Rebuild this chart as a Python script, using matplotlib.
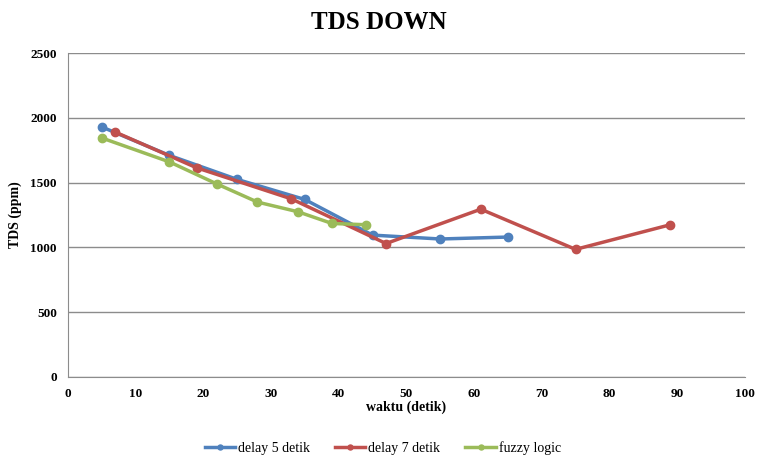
import matplotlib.pyplot as plt

# data
x_delay5 = [5, 15, 25, 35, 45, 55, 65]
y_delay5 = [1930, 1710, 1525, 1370, 1095, 1065, 1080]

x_delay7 = [7, 19, 33, 47, 61, 75, 89]
y_delay7 = [1890, 1615, 1375, 1030, 1295, 985, 1175]

x_fuzzy = [5, 15, 22, 28, 34, 39, 44]
y_fuzzy = [1845, 1660, 1490, 1350, 1275, 1185, 1175]

x_ticks = list(range(0, 101, 10))
y_ticks = list(range(0, 2501, 500))


def main():
    plt.rcParams['font.family'] = ['Liberation Serif', 'DejaVu Serif']
    fig = plt.figure(figsize=(7.57, 4.58), dpi=100)
    ax = fig.add_axes([0.0898, 0.177, 0.894, 0.707])

    ax.plot(x_delay5, y_delay5, color='#4F81BD', marker='o', markersize=6,
            linewidth=2.5, label='delay 5 detik', zorder=3)
    ax.plot(x_delay7, y_delay7, color='#C0504D', marker='o', markersize=6,
            linewidth=2.5, label='delay 7 detik', zorder=3)
    ax.plot(x_fuzzy, y_fuzzy, color='#9BBB59', marker='o', markersize=6,
            linewidth=2.5, label='fuzzy logic', zorder=3)

    ax.set_xlim(0, 100)
    ax.set_ylim(0, 2500)
    ax.set_xticks(x_ticks)
    ax.set_yticks(y_ticks)
    ax.tick_params(length=0, labelsize=9.5, pad=8)
    for lbl in ax.get_xticklabels() + ax.get_yticklabels():
        lbl.set_fontweight('bold')

    ax.grid(True, axis='y', color='#8c8c8c', linewidth=1)
    ax.set_axisbelow(True)
    for side in ['top', 'right']:
        ax.spines[side].set_visible(False)
    for side in ['left', 'bottom']:
        ax.spines[side].set_color('#8c8c8c')

    ax.set_xlabel('waktu (detik)', fontsize=10, fontweight='bold', labelpad=0)
    ax.set_ylabel('TDS (ppm)', fontsize=10, fontweight='bold', labelpad=6)
    fig.suptitle('TDS DOWN', fontsize=18, fontweight='bold', y=0.975)

    ax.legend(loc='upper center', bbox_to_anchor=(0.465, -0.16), ncol=3,
              frameon=False, fontsize=10, handlelength=2.2, markerscale=0.6,
              columnspacing=1.8, handletextpad=0.2)

    fig.savefig('out.png', dpi=100)


if __name__ == "__main__":
    main()
